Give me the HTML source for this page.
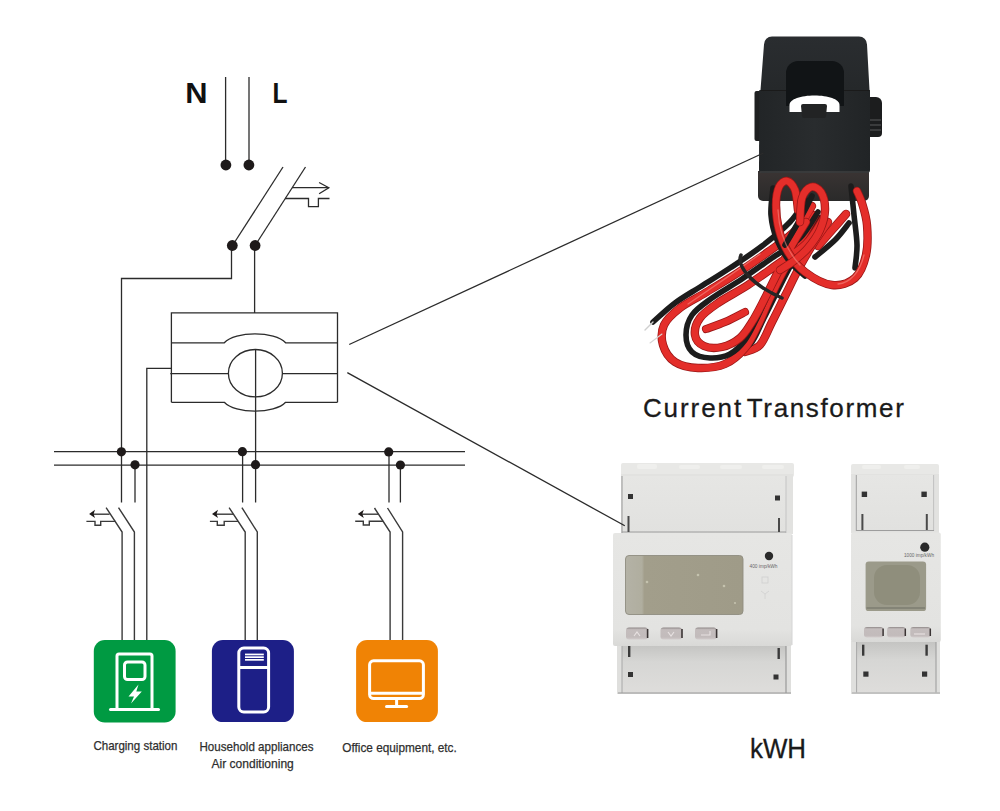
<!DOCTYPE html>
<html><head><meta charset="utf-8">
<style>
html,body{margin:0;padding:0;background:#fff;}
body{width:1000px;height:811px;overflow:hidden;position:relative;}
svg{position:absolute;left:0;top:0;display:block;}
text{font-family:"Liberation Sans",sans-serif;}
</style></head>
<body>
<svg width="1000" height="811" viewBox="0 0 1000 811">
<!-- ============ DIAGRAM ============ -->
<g id="diagram" fill="none" stroke="#2b2b2b" stroke-width="1.3">
  <!-- N / L lines -->
  <line x1="225.6" y1="77" x2="225.6" y2="165"/>
  <line x1="249" y1="77" x2="249" y2="165"/>
  <!-- main breaker diagonals -->
  <line x1="283" y1="167" x2="232.5" y2="245.5"/>
  <line x1="305.5" y1="167" x2="255.1" y2="245.5"/>
  <!-- arrow -->
  <line x1="292" y1="187.7" x2="328.8" y2="187.7"/>
  <polyline points="319.1,182.5 328.8,187.7 319.1,193.7"/>
  <polyline points="285,198.5 308.5,198.5 308.5,206.6 318.4,206.6 318.4,198.5 329.5,198.5"/>
  <!-- left feed -->
  <polyline points="231.5,245.5 231.5,278.5 121.5,278.5 121.5,502.5"/>
  <line x1="254.6" y1="245.5" x2="254.6" y2="313"/>
  <!-- CT symbol box -->
  <polyline points="171.4,402.3 171.4,312.9 337.5,312.9 337.5,402.3"/>
  <path d="M171.4,342.8 H224.3 C235,331 275,331 285.6,342.8 H337.5"/>
  <path d="M171.4,402.3 H224.3 C235,414 275,414 285.6,402.3 H337.5"/>
  <line x1="170.3" y1="373.6" x2="228.4" y2="373.6"/>
  <line x1="282.4" y1="373.6" x2="337.5" y2="373.6"/>
  <ellipse cx="255.4" cy="373.2" rx="27" ry="23.7"/>
  <line x1="255.6" y1="349.5" x2="255.6" y2="502.5"/>
  <polyline points="171.4,368.4 146.8,368.4 146.8,640"/>
  <!-- bus -->
  <line x1="54" y1="451.6" x2="465" y2="451.6"/>
  <line x1="54" y1="465.1" x2="465" y2="465.1"/>
  <!-- branch stubs -->
  <line x1="135" y1="465" x2="135" y2="502.5"/>
  <line x1="242.6" y1="451.7" x2="242.6" y2="502.5"/>
  <line x1="389" y1="451.9" x2="389" y2="502.5"/>
  <line x1="400.4" y1="465" x2="400.4" y2="502.5"/>
  <!-- connector lines to photos -->
</g>
<g id="branches" fill="none" stroke="#3a3a3a" stroke-width="1.4">
  <!-- branch 1 -->
  <polyline points="106.1,507.6 122.1,532 122.1,640"/>
  <polyline points="118.5,507.6 134.4,532 134.4,640"/>
  <line x1="92.5" y1="514.2" x2="109.6" y2="514.2"/>
  <polyline points="86.4,521.4 95,521.4 95,525.2 100.7,525.2 100.7,521.4 115.5,521.4"/>
  <!-- branch 2 -->
  <polyline points="229.1,507.6 245.2,532 245.2,640"/>
  <polyline points="241.9,507.6 257.3,532 257.3,640"/>
  <line x1="215.5" y1="514.2" x2="233" y2="514.2"/>
  <polyline points="209.9,521.4 217.3,521.4 217.3,525.2 224.2,525.2 224.2,521.4 238,521.4"/>
  <!-- branch 3 -->
  <polyline points="374.5,508 390.1,532 390.1,640"/>
  <polyline points="387.5,508 402.6,532 402.6,640"/>
  <line x1="361.5" y1="514.2" x2="378.3" y2="514.2"/>
  <polyline points="355.2,521.2 363.3,521.2 363.3,525 369.3,525 369.3,521.2 383.2,521.2"/>
</g>
<g fill="#1e1a1a">
  <circle cx="225.9" cy="165" r="5.4"/>
  <circle cx="248.9" cy="165" r="5.4"/>
  <circle cx="232.3" cy="245.5" r="5.4"/>
  <circle cx="255.1" cy="245.5" r="5.4"/>
  <circle cx="121.4" cy="451.8" r="4.6"/>
  <circle cx="135" cy="464.8" r="4.6"/>
  <circle cx="242.4" cy="451.7" r="4.6"/>
  <circle cx="255.5" cy="464.7" r="4.6"/>
  <circle cx="388.7" cy="451.9" r="4.6"/>
  <circle cx="400.4" cy="465" r="4.6"/>
  <!-- arrowheads -->
  <path d="M89.1,514 L95,509.8 L93.6,514 L95,518 Z"/>
  <path d="M212,514 L218,509.8 L216.5,514 L218,518 Z"/>
  <path d="M357.8,514 L363.8,509.8 L362.3,514 L363.8,518 Z"/>
</g>
<!-- N L -->
<text x="185.2" y="103.3" font-size="29.5" font-weight="bold" fill="#111" textLength="22.3" lengthAdjust="spacingAndGlyphs">N</text>
<text x="272.5" y="103.3" font-size="29.5" font-weight="bold" fill="#111" textLength="15" lengthAdjust="spacingAndGlyphs">L</text>


<!-- ============ CT PHOTO ============ -->
<defs>
  <linearGradient id="ctTop" x1="0" y1="0" x2="0" y2="1">
    <stop offset="0" stop-color="#2a2d30"/><stop offset="1" stop-color="#25282a"/>
  </linearGradient>
  <linearGradient id="ctFront" x1="0" y1="0" x2="1" y2="0">
    <stop offset="0" stop-color="#222527"/><stop offset="0.5" stop-color="#292c2e"/><stop offset="1" stop-color="#212426"/>
  </linearGradient>
  <linearGradient id="ctBottom" x1="0" y1="0" x2="0" y2="1">
    <stop offset="0" stop-color="#3a3433"/><stop offset="1" stop-color="#2a2a2a"/>
  </linearGradient>
</defs>
<g id="ct">
  <!-- ears -->
  <rect x="754.5" y="91" width="8" height="50" rx="2" fill="#1f2021"/>
  <path d="M868,97 h8 a6,6 0 0 1 6,6 v30 a4,4 0 0 1 -4,4 h-10 z" fill="#1c1d1e"/>
  <g stroke="#6a6a6a" stroke-width="0.8"><line x1="870" y1="120" x2="881" y2="120"/><line x1="870" y1="125" x2="881" y2="125"/><line x1="870" y1="130" x2="881" y2="130"/></g>
  <!-- bottom face -->
  <path d="M758,171 H869 V196 a5,5 0 0 1 -5,5 H763 a5,5 0 0 1 -5,-5 Z" fill="url(#ctBottom)"/>
  <!-- front lower body -->
  <path d="M759.3,90 H870 V170 a3,3 0 0 1 -3,3 H762 a3,3 0 0 1 -3,-3 Z" fill="url(#ctFront)"/>
  <line x1="760" y1="172" x2="869" y2="172" stroke="#4a4a4a" stroke-width="1"/>
  <!-- top piece -->
  <path d="M772,36.5 H859 a8,8 0 0 1 8,8 L869.5,90 H760.5 L764,44.5 a8,8 0 0 1 8,-8 Z" fill="url(#ctTop)"/>
  <line x1="761" y1="90.5" x2="869" y2="90.5" stroke="#1a1a1a" stroke-width="1"/>
  <!-- hole -->
  <path d="M786,106 V73 a12,12 0 0 1 12,-12 H832 a12,12 0 0 1 12,12 V106 Z" fill="#111416"/>
  <path d="M789.5,112 V105 C789.5,99 801,95.5 814.5,95.5 C828,95.5 839.5,99 839.5,105 V112 Z" fill="#fff"/>
  <path d="M801,106 a2,2 0 0 1 2,-2 H825 a2,2 0 0 1 2,2 L826,116 a2,2 0 0 1 -2,2 H804 a2,2 0 0 1 -2,-2 Z" fill="#222324"/>
</g>
<!-- wires -->
<g id="wires" fill="none" stroke-linecap="round" stroke-linejoin="round">
<path d="M851.0,186.0 C851.5,190.8 853.0,205.2 854.0,215.0 C855.0,224.8 856.8,236.2 857.0,245.0 C857.2,253.8 855.3,264.2 855.0,268.0" stroke="#1c1c1c" stroke-width="5.6"/>
<path d="M849.0,223.0 C846.7,225.8 840.7,234.3 835.0,240.0 C829.3,245.7 818.3,254.2 815.0,257.0" stroke="#1c1c1c" stroke-width="5.6"/>
<path d="M846.0,214.0 C843.7,216.7 836.7,224.7 832.0,230.0 C827.3,235.3 820.3,243.3 818.0,246.0" stroke="#9a1717" stroke-width="8.6"/>
<path d="M846.0,214.0 C843.7,216.7 836.7,224.7 832.0,230.0 C827.3,235.3 820.3,243.3 818.0,246.0" stroke="#e42e2a" stroke-width="7"/>
<path d="M745.0,352.0 C747.5,350.8 755.5,350.0 760.0,345.0 C764.5,340.0 767.8,330.2 772.0,322.0 C776.2,313.8 780.5,305.0 785.0,296.0 C789.5,287.0 794.3,276.7 799.0,268.0 C803.7,259.3 808.2,251.7 813.0,244.0 C817.8,236.3 825.5,225.7 828.0,222.0" stroke="#9a1717" stroke-width="8.4"/>
<path d="M745.0,352.0 C747.5,350.8 755.5,350.0 760.0,345.0 C764.5,340.0 767.8,330.2 772.0,322.0 C776.2,313.8 780.5,305.0 785.0,296.0 C789.5,287.0 794.3,276.7 799.0,268.0 C803.7,259.3 808.2,251.7 813.0,244.0 C817.8,236.3 825.5,225.7 828.0,222.0" stroke="#e42e2a" stroke-width="6.8"/>
<path d="M740.0,350.0 C742.0,348.7 748.0,347.3 752.0,342.0 C756.0,336.7 759.8,326.3 764.0,318.0 C768.2,309.7 772.5,300.8 777.0,292.0 C781.5,283.2 786.2,273.7 791.0,265.0 C795.8,256.3 801.2,247.8 806.0,240.0 C810.8,232.2 817.7,221.7 820.0,218.0" stroke="#1c1c1c" stroke-width="5.6"/>
<path d="M806.0,200.0 C803.3,203.7 797.3,214.3 790.0,222.0 C782.7,229.7 772.0,238.3 762.0,246.0 C752.0,253.7 740.3,261.2 730.0,268.0 C719.7,274.8 709.2,281.2 700.0,287.0 C690.8,292.8 682.8,297.2 675.0,303.0 C667.2,308.8 656.7,318.8 653.0,322.0" stroke="#1c1c1c" stroke-width="5.6"/>
<path d="M812.0,206.0 C809.3,210.0 803.3,222.3 796.0,230.0 C788.7,237.7 778.0,244.7 768.0,252.0 C758.0,259.3 746.5,267.2 736.0,274.0 C725.5,280.8 714.3,287.3 705.0,293.0 C695.7,298.7 686.8,302.7 680.0,308.0 C673.2,313.3 666.8,318.8 664.0,325.0 C661.2,331.2 661.2,338.8 663.0,345.0 C664.8,351.2 669.2,358.2 675.0,362.0 C680.8,365.8 689.7,367.7 698.0,368.0 C706.3,368.3 717.2,367.3 725.0,364.0 C732.8,360.7 739.5,354.5 745.0,348.0 C750.5,341.5 753.8,333.3 758.0,325.0 C762.2,316.7 765.5,307.5 770.0,298.0 C774.5,288.5 780.0,277.3 785.0,268.0 C790.0,258.7 795.0,250.8 800.0,242.0 C805.0,233.2 812.5,219.5 815.0,215.0" stroke="#9a1717" stroke-width="8.4"/>
<path d="M812.0,206.0 C809.3,210.0 803.3,222.3 796.0,230.0 C788.7,237.7 778.0,244.7 768.0,252.0 C758.0,259.3 746.5,267.2 736.0,274.0 C725.5,280.8 714.3,287.3 705.0,293.0 C695.7,298.7 686.8,302.7 680.0,308.0 C673.2,313.3 666.8,318.8 664.0,325.0 C661.2,331.2 661.2,338.8 663.0,345.0 C664.8,351.2 669.2,358.2 675.0,362.0 C680.8,365.8 689.7,367.7 698.0,368.0 C706.3,368.3 717.2,367.3 725.0,364.0 C732.8,360.7 739.5,354.5 745.0,348.0 C750.5,341.5 753.8,333.3 758.0,325.0 C762.2,316.7 765.5,307.5 770.0,298.0 C774.5,288.5 780.0,277.3 785.0,268.0 C790.0,258.7 795.0,250.8 800.0,242.0 C805.0,233.2 812.5,219.5 815.0,215.0" stroke="#e42e2a" stroke-width="6.8"/>
<path d="M818.0,212.0 C815.0,216.3 807.7,230.3 800.0,238.0 C792.3,245.7 781.7,251.2 772.0,258.0 C762.3,264.8 752.0,272.3 742.0,279.0 C732.0,285.7 720.3,292.0 712.0,298.0 C703.7,304.0 696.3,308.8 692.0,315.0 C687.7,321.2 686.0,328.8 686.0,335.0 C686.0,341.2 688.0,348.2 692.0,352.0 C696.0,355.8 703.7,357.7 710.0,358.0 C716.3,358.3 724.2,357.0 730.0,354.0 C735.8,351.0 740.5,346.0 745.0,340.0 C749.5,334.0 752.8,326.3 757.0,318.0 C761.2,309.7 765.5,299.3 770.0,290.0 C774.5,280.7 779.0,271.2 784.0,262.0 C789.0,252.8 797.3,239.5 800.0,235.0" stroke="#1c1c1c" stroke-width="5.6"/>
<path d="M824.0,218.0 C821.0,222.3 813.7,236.3 806.0,244.0 C798.3,251.7 787.7,257.2 778.0,264.0 C768.3,270.8 758.0,278.5 748.0,285.0 C738.0,291.5 726.0,297.5 718.0,303.0 C710.0,308.5 703.8,312.7 700.0,318.0 C696.2,323.3 694.3,330.3 695.0,335.0 C695.7,339.7 699.5,344.0 704.0,346.0 C708.5,348.0 716.0,348.3 722.0,347.0 C728.0,345.7 735.0,342.2 740.0,338.0 C745.0,333.8 748.0,328.3 752.0,322.0 C756.0,315.7 759.7,308.3 764.0,300.0 C768.3,291.7 773.3,281.2 778.0,272.0 C782.7,262.8 787.3,253.3 792.0,245.0 C796.7,236.7 803.7,225.8 806.0,222.0" stroke="#9a1717" stroke-width="8.4"/>
<path d="M824.0,218.0 C821.0,222.3 813.7,236.3 806.0,244.0 C798.3,251.7 787.7,257.2 778.0,264.0 C768.3,270.8 758.0,278.5 748.0,285.0 C738.0,291.5 726.0,297.5 718.0,303.0 C710.0,308.5 703.8,312.7 700.0,318.0 C696.2,323.3 694.3,330.3 695.0,335.0 C695.7,339.7 699.5,344.0 704.0,346.0 C708.5,348.0 716.0,348.3 722.0,347.0 C728.0,345.7 735.0,342.2 740.0,338.0 C745.0,333.8 748.0,328.3 752.0,322.0 C756.0,315.7 759.7,308.3 764.0,300.0 C768.3,291.7 773.3,281.2 778.0,272.0 C782.7,262.8 787.3,253.3 792.0,245.0 C796.7,236.7 803.7,225.8 806.0,222.0" stroke="#e42e2a" stroke-width="6.8"/>
<path d="M706.0,329.0 C709.2,327.8 718.5,324.8 725.0,322.0 C731.5,319.2 741.7,313.7 745.0,312.0" stroke="#9a1717" stroke-width="8.1"/>
<path d="M706.0,329.0 C709.2,327.8 718.5,324.8 725.0,322.0 C731.5,319.2 741.7,313.7 745.0,312.0" stroke="#e42e2a" stroke-width="6.5"/>
<path d="M773.0,188.0 C772.7,192.5 770.3,206.3 771.0,215.0 C771.7,223.7 773.8,232.2 777.0,240.0 C780.2,247.8 785.3,256.0 790.0,262.0 C794.7,268.0 802.5,273.7 805.0,276.0" stroke="#1c1c1c" stroke-width="5.6"/>
<path d="M798.0,210.0 C797.5,206.7 796.8,194.8 795.0,190.0 C793.2,185.2 789.7,181.5 787.0,181.0 C784.3,180.5 780.8,183.0 779.0,187.0 C777.2,191.0 776.0,197.8 776.0,205.0 C776.0,212.2 777.0,222.2 779.0,230.0 C781.0,237.8 783.7,245.0 788.0,252.0 C792.3,259.0 797.7,266.5 805.0,272.0 C812.3,277.5 823.7,284.0 832.0,285.0 C840.3,286.0 849.3,283.0 855.0,278.0 C860.7,273.0 864.0,263.8 866.0,255.0 C868.0,246.2 867.7,233.7 867.0,225.0 C866.3,216.3 863.7,208.7 862.0,203.0 C860.3,197.3 857.8,193.0 857.0,191.0" stroke="#9a1717" stroke-width="8.4"/>
<path d="M798.0,210.0 C797.5,206.7 796.8,194.8 795.0,190.0 C793.2,185.2 789.7,181.5 787.0,181.0 C784.3,180.5 780.8,183.0 779.0,187.0 C777.2,191.0 776.0,197.8 776.0,205.0 C776.0,212.2 777.0,222.2 779.0,230.0 C781.0,237.8 783.7,245.0 788.0,252.0 C792.3,259.0 797.7,266.5 805.0,272.0 C812.3,277.5 823.7,284.0 832.0,285.0 C840.3,286.0 849.3,283.0 855.0,278.0 C860.7,273.0 864.0,263.8 866.0,255.0 C868.0,246.2 867.7,233.7 867.0,225.0 C866.3,216.3 863.7,208.7 862.0,203.0 C860.3,197.3 857.8,193.0 857.0,191.0" stroke="#e42e2a" stroke-width="6.8"/>
<path d="M812.0,196.0 C810.8,198.3 807.8,204.7 805.0,210.0 C802.2,215.3 798.3,222.2 795.0,228.0 C791.7,233.8 786.7,242.2 785.0,245.0" stroke="#1c1c1c" stroke-width="5.6"/>
<path d="M800.0,222.0 C800.3,218.0 800.2,203.8 802.0,198.0 C803.8,192.2 807.8,188.0 811.0,187.0 C814.2,186.0 818.7,188.2 821.0,192.0 C823.3,195.8 825.2,203.7 825.0,210.0 C824.8,216.3 822.8,223.7 820.0,230.0 C817.2,236.3 812.2,243.0 808.0,248.0 C803.8,253.0 799.7,256.3 795.0,260.0 C790.3,263.7 782.5,268.3 780.0,270.0" stroke="#9a1717" stroke-width="8.4"/>
<path d="M800.0,222.0 C800.3,218.0 800.2,203.8 802.0,198.0 C803.8,192.2 807.8,188.0 811.0,187.0 C814.2,186.0 818.7,188.2 821.0,192.0 C823.3,195.8 825.2,203.7 825.0,210.0 C824.8,216.3 822.8,223.7 820.0,230.0 C817.2,236.3 812.2,243.0 808.0,248.0 C803.8,253.0 799.7,256.3 795.0,260.0 C790.3,263.7 782.5,268.3 780.0,270.0" stroke="#e42e2a" stroke-width="6.8"/>
<g stroke="#f7938a" stroke-width="1.3" opacity="0.55">
  <path d="M778,210 C779,232 786,250 800,265"/>
  <path d="M760,254 C735,272 712,288 688,304"/>
  <path d="M838,284 C850,283 860,272 864,255"/>
</g>
<path d="M741,255 C736,266 752,285 782,298" stroke="#262626" stroke-width="3.5"/>
<path d="M653,322 L645,330" stroke="#cfcfcf" stroke-width="1.4"/>
<path d="M662,334 L650,343" stroke="#d6d6d6" stroke-width="1.1"/>
</g>

<!-- ============ METERS ============ -->
<defs>
  <linearGradient id="mFront" x1="0" y1="0" x2="0" y2="1">
    <stop offset="0" stop-color="#e6e6e4"/><stop offset="0.85" stop-color="#e3e3e1"/><stop offset="1" stop-color="#d9d9d7"/>
  </linearGradient>
  <linearGradient id="mUpper" x1="0" y1="0" x2="0" y2="1">
    <stop offset="0" stop-color="#e6e6e4"/><stop offset="1" stop-color="#e1e1df"/>
  </linearGradient>
  <linearGradient id="mLower" x1="0" y1="0" x2="0" y2="1">
    <stop offset="0" stop-color="#c4c4c2"/><stop offset="0.35" stop-color="#d6d6d4"/><stop offset="1" stop-color="#dedddb"/>
  </linearGradient>
  <linearGradient id="lcd" x1="0" y1="0" x2="1" y2="0">
    <stop offset="0" stop-color="#b4b2a6"/><stop offset="0.14" stop-color="#b0ae9f"/><stop offset="0.16" stop-color="#a29e8b"/><stop offset="1" stop-color="#9f9b88"/>
  </linearGradient>
  <linearGradient id="btn" x1="0" y1="0" x2="0" y2="1">
    <stop offset="0" stop-color="#8f8888"/><stop offset="0.18" stop-color="#c4bdbd"/><stop offset="0.8" stop-color="#c2bbbb"/><stop offset="1" stop-color="#d2cccc"/>
  </linearGradient>
  </defs>
<g id="meter1">
  <!-- top strip -->
  <rect x="621" y="463" width="173" height="14" rx="2" fill="#e8e8e6"/>
  <g fill="#efefed"><rect x="637" y="464" width="20" height="5" rx="2"/><rect x="679" y="465" width="21" height="4" rx="2"/><rect x="720" y="465" width="22" height="4" rx="2"/><rect x="762" y="465" width="22" height="4" rx="2"/></g>
  <!-- upper body -->
  <rect x="621" y="474" width="172" height="60" fill="#e2e2e0"/>
  <rect x="622" y="476" width="164" height="57" fill="url(#mUpper)"/>
  <line x1="622" y1="476" x2="622" y2="533" stroke="#9a9a9a" stroke-width="1"/>
  <line x1="786" y1="476" x2="786" y2="533" stroke="#c4c4c4" stroke-width="1"/>
  <line x1="622" y1="532" x2="786" y2="532" stroke="#9d9d9d" stroke-width="1.2"/>
  <rect x="628" y="494" width="5" height="5" fill="#333"/>
  <rect x="775" y="495.5" width="5" height="5" fill="#333"/>
  <rect x="627.5" y="516" width="2" height="16" fill="#4a4a4a"/>
  <rect x="778" y="518" width="2" height="14" fill="#4a4a4a"/>
  <!-- lower body -->
  <rect x="617" y="644" width="174" height="50" fill="#dfdfdd"/>
  <rect x="622" y="645" width="164" height="48" fill="url(#mLower)"/>
  <line x1="622" y1="645" x2="622" y2="693" stroke="#a8a8a8" stroke-width="1"/>
  <line x1="786" y1="645" x2="786" y2="693" stroke="#8c8c8c" stroke-width="1"/>
  <line x1="618" y1="693" x2="791" y2="693" stroke="#9a9a9a" stroke-width="1.2"/>
  <rect x="628" y="646" width="2.4" height="11" fill="#3a3a3a"/>
  <rect x="777.5" y="648" width="2.4" height="11" fill="#3a3a3a"/>
  <rect x="628" y="672" width="5" height="5" fill="#333"/>
  <rect x="773.5" y="674.5" width="5" height="5" fill="#333"/>
  <!-- front -->
  <rect x="613" y="533" width="179" height="113" rx="2" fill="url(#mFront)"/>
  <line x1="792" y1="535" x2="792" y2="645" stroke="#d4d4d4" stroke-width="1"/>
  <rect x="625.5" y="555.5" width="117.5" height="59" rx="3.5" fill="url(#lcd)" stroke="#8e8c80" stroke-width="0.9"/>
  <g fill="#c4c2ae"><circle cx="647" cy="582" r="1.3"/><circle cx="698" cy="575" r="1.3"/><circle cx="724" cy="586" r="1.3"/><circle cx="735" cy="603" r="1.1"/></g>
  <circle cx="769" cy="556" r="4.2" fill="#2a2a2a"/>
  <text x="749.5" y="568" font-size="5" fill="#666" textLength="28" lengthAdjust="spacingAndGlyphs">400 imp/kWh</text>
  <rect x="762" y="577" width="6" height="6" fill="none" stroke="#cfcfcf" stroke-width="0.8"/>
  <path d="M761,591 L765,594 L769,591 M765,594 V599" fill="none" stroke="#d0d0d0" stroke-width="0.8"/>
  <rect x="626" y="627.5" width="22" height="12" rx="3" fill="url(#btn)"/>
  <rect x="660.5" y="627.5" width="21.5" height="12" rx="3" fill="url(#btn)"/>
  <rect x="695" y="627.5" width="21.6" height="12" rx="3" fill="url(#btn)"/>
  <g fill="none" stroke="#3a3434" stroke-width="1.6"><line x1="647.6" y1="629" x2="647.6" y2="638"/><line x1="682" y1="629" x2="682" y2="638"/><line x1="716.6" y1="629" x2="716.6" y2="638"/></g>
  <g fill="none" stroke="#e8e2e2" stroke-width="1.1"><path d="M634,636 L637,632 L640,636"/><path d="M668,632 L671,636 L674,632"/><path d="M710,631 V635 H701"/></g>
</g>
<g id="meter2">
  <rect x="851" y="464" width="88" height="11" rx="2" fill="#e8e8e6"/>
  <g fill="#efefed"><rect x="862" y="465" width="19" height="4" rx="2"/><rect x="904" y="465" width="16" height="4" rx="2"/></g>
  <rect x="851" y="474" width="88" height="59" fill="#e2e2e0"/>
  <rect x="856.3" y="475" width="77.3" height="56" fill="url(#mUpper)"/>
  <line x1="856.3" y1="475" x2="856.3" y2="531" stroke="#a0a0a0" stroke-width="1"/>
  <line x1="933.6" y1="475" x2="933.6" y2="531" stroke="#c0c0c0" stroke-width="1"/>
  <line x1="856" y1="530.5" x2="934" y2="530.5" stroke="#9d9d9d" stroke-width="1.2"/>
  <rect x="861.7" y="491.6" width="5.4" height="5.4" fill="#333"/>
  <rect x="921.4" y="491.6" width="5.4" height="5.4" fill="#333"/>
  <rect x="861.4" y="514" width="2" height="16" fill="#4a4a4a"/>
  <rect x="925.8" y="514" width="2" height="16" fill="#4a4a4a"/>
  <rect x="851" y="641" width="89" height="53" fill="#dfdfdd"/>
  <rect x="856.6" y="642" width="79.5" height="50.5" fill="url(#mLower)"/>
  <line x1="856.6" y1="642" x2="856.6" y2="692.5" stroke="#a8a8a8" stroke-width="1"/>
  <line x1="936" y1="642" x2="936" y2="692.5" stroke="#9a9a9a" stroke-width="1"/>
  <line x1="852" y1="693" x2="940" y2="693" stroke="#a5a5a5" stroke-width="1.2"/>
  <rect x="862" y="644.7" width="2.4" height="11" fill="#3a3a3a"/>
  <rect x="925.4" y="644.7" width="2.4" height="11" fill="#3a3a3a"/>
  <rect x="863.3" y="671.5" width="5.2" height="5.2" fill="#333"/>
  <rect x="922" y="671.5" width="5.2" height="5.2" fill="#333"/>
  <rect x="851" y="532.5" width="89.8" height="109.5" rx="2" fill="url(#mFront)"/>
  <rect x="865.6" y="561.4" width="60.5" height="49.7" rx="3.2" fill="#9b9a8a"/>
  <rect x="874" y="565" width="46" height="40" rx="13" fill="#8f8e7c"/>
  <path d="M866.5,608 H925" stroke="#7d7c70" stroke-width="1.5"/>
  <circle cx="924.8" cy="547.2" r="4.6" fill="#2a2a2a"/>
  <text x="904" y="557" font-size="5" fill="#666" textLength="30" lengthAdjust="spacingAndGlyphs">1000 imp/kWh</text>
  <rect x="864" y="627" width="19.4" height="10.5" rx="3" fill="url(#btn)"/>
  <rect x="887.1" y="627" width="18.5" height="10.5" rx="3" fill="url(#btn)"/>
  <rect x="910.3" y="627" width="20.3" height="10.5" rx="3" fill="url(#btn)"/>
  <g stroke="#3a3434" stroke-width="1.5"><line x1="930.3" y1="628.5" x2="930.3" y2="636"/><line x1="883.1" y1="628.5" x2="883.1" y2="636"/><line x1="905.3" y1="628.5" x2="905.3" y2="636"/></g>
  <path d="M914,634 H925" stroke="#e6e0e0" stroke-width="1.2"/>
</g>

<!-- ============ ICONS ============ -->
<rect x="93.8" y="640.1" width="81.8" height="82.3" rx="11" fill="#009a42"/>
<rect x="211.9" y="640.1" width="82" height="82" rx="11" fill="#1d1f87"/>
<rect x="356.1" y="640.1" width="81.8" height="82" rx="11" fill="#f08305"/>


<!-- icon glyphs -->
<g fill="none" stroke="#fff" stroke-width="3">
  <!-- charger -->
  <path d="M117,708 V656 a2,2 0 0 1 2,-2 H150 a2,2 0 0 1 2,2 V708"/>
  <rect x="124.5" y="662" width="20.5" height="17.5" rx="3"/>
  <line x1="110.5" y1="709.5" x2="158.5" y2="709.5" stroke-linecap="round"/>
  <!-- AC -->
  <rect x="238.8" y="648" width="29.8" height="64" rx="5"/>
  <line x1="238.8" y1="667.5" x2="268.6" y2="667.5"/>
  
  <!-- monitor -->
  <rect x="369.6" y="660.8" width="53.8" height="37.7" rx="4"/>
  <line x1="369.6" y1="693.3" x2="423.4" y2="693.3"/>
  <line x1="396.6" y1="699" x2="396.6" y2="705.5"/>
  <line x1="386.5" y1="706.6" x2="406.6" y2="706.6" stroke-linecap="round"/>
</g>
<path d="M138.5,684.5 L128.5,696.5 H134 L131,703.5 L141.8,691.5 H136.3 Z" fill="#fff"/>
<g fill="#fff"><rect x="245" y="653.6" width="18.8" height="1.7"/><rect x="245" y="656.3" width="18.8" height="1.7"/><rect x="245" y="659" width="18.8" height="1.7"/></g>

<!-- labels -->
<text x="93.4" y="750.4" font-size="13" fill="#2e2e2e" stroke="#2e2e2e" stroke-width="0.25" textLength="84" lengthAdjust="spacingAndGlyphs">Charging station</text>
<text x="199.5" y="751" font-size="13" fill="#2e2e2e" stroke="#2e2e2e" stroke-width="0.25" textLength="114" lengthAdjust="spacingAndGlyphs">Household appliances</text>
<text x="211.5" y="768.4" font-size="13" fill="#2e2e2e" stroke="#2e2e2e" stroke-width="0.25" textLength="82.3" lengthAdjust="spacingAndGlyphs">Air conditioning</text>
<text x="342.3" y="751.7" font-size="13" fill="#2e2e2e" stroke="#2e2e2e" stroke-width="0.25" textLength="114.5" lengthAdjust="spacingAndGlyphs">Office equipment, etc.</text>

<text x="642.9" y="416.8" font-size="26" fill="#1a1a1a" stroke="#1a1a1a" stroke-width="0.3" letter-spacing="1.93">Current</text>
<text x="746.8" y="416.8" font-size="26" fill="#1a1a1a" stroke="#1a1a1a" stroke-width="0.3" letter-spacing="1.64">Transformer</text>
<text x="750" y="758.2" font-size="27" fill="#1a1a1a" stroke="#1a1a1a" stroke-width="0.3" textLength="56" lengthAdjust="spacingAndGlyphs">kWH</text>
<g stroke="#2b2b2b" stroke-width="1.3"><line x1="349.2" y1="344.5" x2="763.5" y2="153"/><line x1="347.3" y1="372.6" x2="624.8" y2="525.8"/></g>
</svg>
</body></html>
